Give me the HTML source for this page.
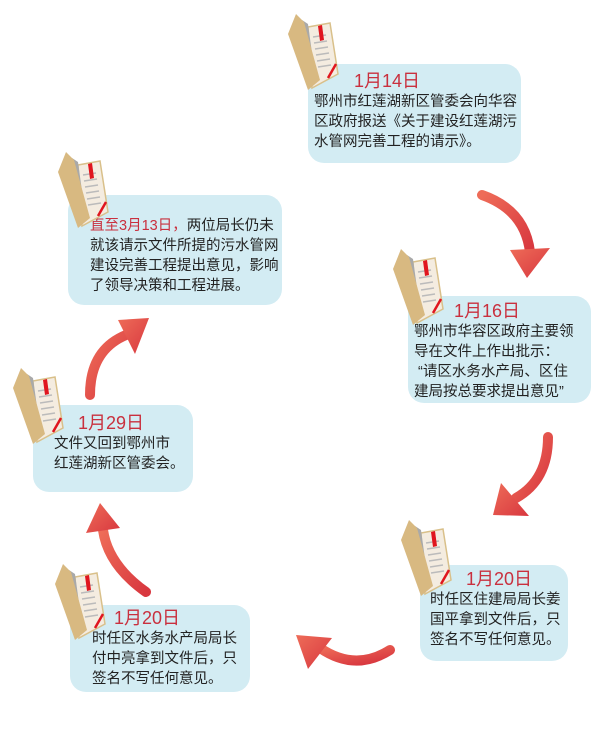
<!DOCTYPE html>
<html><head><meta charset="utf-8"><style>
body{margin:0;background:#fff;width:600px;height:733px;position:relative;overflow:hidden;font-family:"Liberation Sans","Noto Sans CJK SC",sans-serif;}
.b{position:absolute;background:#d3ecf3;border-radius:16px;color:#222;font-size:14.5px;line-height:20px;box-sizing:border-box;white-space:nowrap;}
.t{color:#c9303e;font-size:18px;line-height:22px;}
svg{position:absolute;left:0;top:0;}
</style></head><body>
<div class="b" style="left:308px;top:64px;width:213px;height:99px;padding:6px 0 0 6px;"><div class="t" style="padding-left:40px">1月14日</div>鄂州市红莲湖新区管委会向华容<br>区政府报送《关于建设红莲湖污<br>水管网完善工程的请示》。</div>
<div class="b" style="left:408px;top:296px;width:183px;height:107px;padding:4px 0 0 6px;"><div class="t" style="padding-left:40px">1月16日</div>鄂州市华容区政府主要领<br>导在文件上作出批示：<br>&nbsp;“请区水务水产局、区住<br>建局按总要求提出意见”</div>
<div class="b" style="left:420px;top:565px;width:148px;height:96px;padding:3px 0 0 10px;"><div class="t" style="padding-left:36px">1月20日</div>时任区住建局局长姜<br>国平拿到文件后，只<br>签名不写任何意见。</div>
<div class="b" style="left:70px;top:605px;width:180px;height:87px;padding:2px 0 0 22px;"><div class="t" style="padding-left:22px">1月20日</div>时任区水务水产局局长<br>付中亮拿到文件后，只<br>签名不写任何意见。</div>
<div class="b" style="left:33px;top:405px;width:160px;height:87px;padding:7px 0 0 21px;"><div class="t" style="padding-left:24px">1月29日</div>文件又回到鄂州市<br>红莲湖新区管委会。</div>
<div class="b" style="left:68px;top:195px;width:214px;height:110px;padding:21px 0 0 22px;"><span style="color:#c9303e">直至3月13日，</span>两位局长仍未<br>就该请示文件所提的污水管网<br>建设完善工程提出意见，影响<br>了领导决策和工程进展。</div>
<svg width="600" height="733" viewBox="0 0 600 733">
<defs>
<linearGradient id="g" x1="0" y1="0" x2="1" y2="1"><stop offset="0" stop-color="#ee6c58"/><stop offset="1" stop-color="#d8373f"/></linearGradient>
<g id="f">
<polygon points="28,15 50,11 58,62 32,76" fill="#f4ece0" stroke="#d9c08a" stroke-width="1.5"/>
<g stroke="#bbb" stroke-width="1.5"><line x1="33" y1="25" x2="46" y2="23"/><line x1="34" y1="31" x2="47" y2="29"/><line x1="35" y1="37" x2="48" y2="35"/><line x1="36" y1="43" x2="49" y2="41"/><line x1="37" y1="49" x2="50" y2="47"/><line x1="38" y1="55" x2="51" y2="53"/></g>
<polygon points="38,14 42,13 44,28 40,29" fill="#e0161f"/>
<line x1="48" y1="66" x2="56" y2="52" stroke="#e0161f" stroke-width="2.5"/>
<polygon points="22,8 28,12 36,70 30,74" fill="#a9a9a9"/>
<polygon points="16,2 24,10 40,68 28,78 8,22" fill="#d8b981"/>
</g>
</defs>
<use href="#f" x="280" y="12"/>
<use href="#f" x="385" y="247"/>
<use href="#f" x="393" y="518"/>
<use href="#f" x="47" y="562"/>
<use href="#f" x="5" y="366"/>
<use href="#f" x="50" y="150"/>
<g fill="none" stroke="url(#g)" stroke-width="10" stroke-linecap="round">
<path d="M482,195 Q525,210 530,252"/>
<path d="M548,437 Q548,480 516,498"/>
<path d="M390,650 Q355,672 320,648"/>
<path d="M146,592 Q108,565 103,530"/>
<path d="M90,395 Q90,350 126,335"/>
</g>
<g fill="url(#g)">
<polygon points="510,250 550,248 527,278"/>
<polygon points="501,483 529,516 493,515"/>
<polygon points="332,638 308,669 296,635"/>
<polygon points="86,533 120,528 100,503"/>
<polygon points="118,320 135,354 149,318"/>
</g>
</svg>
</body></html>
